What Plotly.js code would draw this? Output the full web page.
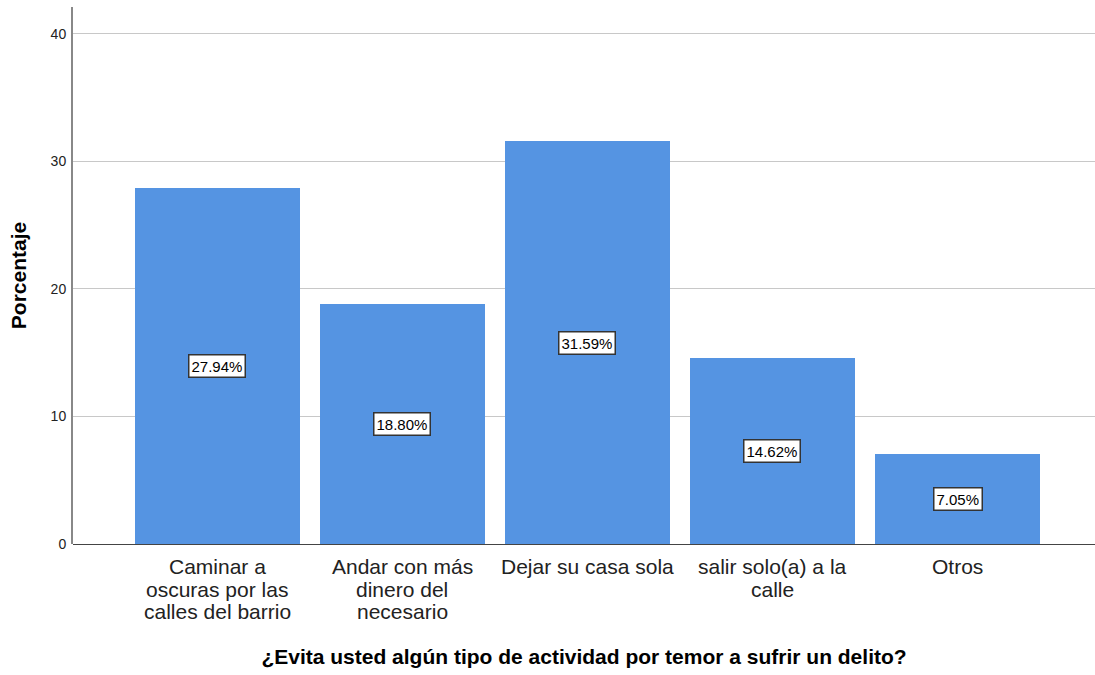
<!DOCTYPE html>
<html>
<head>
<meta charset="utf-8">
<script src="https://cdn.plot.ly/plotly-3.0.1.min.js"></script>
<style>html,body{margin:0;padding:0;background:#fff;}#chart{width:1095px;height:675px;}</style>
</head>
<body>
<div id="chart"></div>
<script>
const categories = [
  "Caminar a<br>oscuras por las<br>calles del barrio",
  "Andar con más<br>dinero del<br>necesario",
  "Dejar su casa sola",
  "salir solo(a) a la<br>calle",
  "Otros"
];
const percentages = [27.94, 18.80, 31.59, 14.62, 7.05];
const yTicks = [0, 10, 20, 30, 40];

const FONT = "Liberation Sans, Arial, sans-serif";
const xIdx = categories.map((c, i) => i);

const trace = {
  type: "bar",
  x: xIdx,
  y: percentages,
  width: 0.892,
  marker: {color: "#5594e2", line: {width: 0}},
  hoverinfo: "none"
};

const valueLabels = percentages.map((v, i) => ({
  x: i, y: v / 2, xref: "x", yref: "y",
  text: v.toFixed(2) + "%",
  showarrow: false,
  bgcolor: "#ffffff",
  bordercolor: "#333333",
  borderwidth: 1.5,
  borderpad: 2,
  font: {family: FONT, size: 15, color: "#000"}
}));

// category labels: one annotation per text line to get tight line spacing
const categoryLabels = [];
categories.forEach((c, i) => {
  c.split("<br>").forEach((line, j) => {
    categoryLabels.push({
      x: i, y: 0, xref: "x", yref: "paper",
      xanchor: "center", yanchor: "top",
      yshift: -9 - j * 22.7,
      text: line,
      showarrow: false,
      font: {family: FONT, size: 21, color: "#222"}
    });
  });
});

const layout = {
  width: 1095, height: 675,
  margin: {l: 73, r: 0, t: 7, b: 131},
  paper_bgcolor: "#ffffff",
  plot_bgcolor: "#ffffff",
  showlegend: false,
  bargap: 0,
  xaxis: {
    range: [-0.78, 4.743],
    tickmode: "array",
    tickvals: xIdx,
    showticklabels: false,
    ticks: "",
    showgrid: false,
    zeroline: false,
    showline: false,
    title: {text: "¿Evita usted algún tipo de actividad por temor a sufrir un delito?",
            font: {family: FONT, size: 21, color: "#000", weight: "bold"},
            standoff: 105}
  },
  yaxis: {
    range: [0, 42.1],
    tickmode: "array",
    tickvals: yTicks,
    ticktext: yTicks.map(String),
    ticks: "",
    showgrid: true,
    gridcolor: "#c8c8c8",
    gridwidth: 1,
    zeroline: true,
    zerolinecolor: "#444444",
    zerolinewidth: 1,
    showline: true,
    linecolor: "#888888",
    linewidth: 2,
    tickfont: {family: FONT, size: 14, color: "#222"},
    ticklabelstandoff: 2,
    title: {text: "Porcentaje",
            font: {family: FONT, size: 21, color: "#000", weight: "bold"},
            standoff: 18}
  },
  annotations: valueLabels.concat(categoryLabels)
};

Plotly.newPlot("chart", [trace], layout, {displayModeBar: false, staticPlot: true});
</script>
</body>
</html>
